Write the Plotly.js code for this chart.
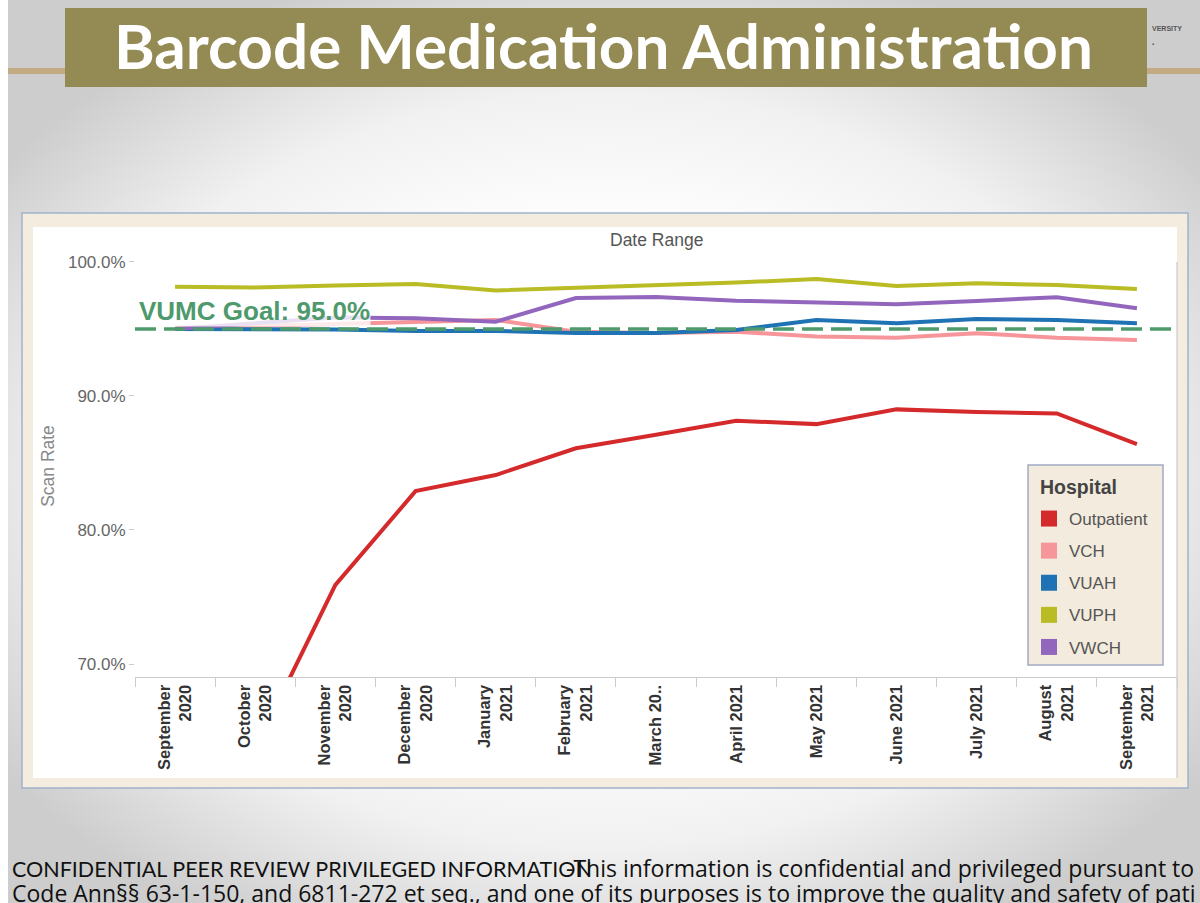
<!DOCTYPE html>
<html>
<head>
<meta charset="utf-8">
<script src="https://cdn.plot.ly/plotly-3.0.1.min.js"></script>
<style>
  html, body { margin:0; padding:0; width:1200px; height:903px; overflow:hidden; background:#ffffff; }
  #bg { position:absolute; left:8px; top:0; width:1192px; height:903px;
        background: radial-gradient(ellipse 62% 58% at 50% 52%, #ffffff 45%, #f1f1f1 72%, #cdcdcd 100%); }
  #chart { position:absolute; left:0; top:0; width:1200px; height:903px; }
</style>
</head>
<body>
<div id="bg"></div>
<div id="chart"></div>
<script>
// ---------------- data ----------------
const months = ['September 2020','October 2020','November 2020','December 2020','January 2021','February 2021',
                'March 2021','April 2021','May 2021','June 2021','July 2021','August 2021','September 2021'];
const tickLabels = ['September<br>2020','October<br>2020','November<br>2020','December<br>2020','January<br>2021',
                    'February<br>2021','March 20..','April 2021','May 2021','June 2021','July 2021','August<br>2021','September<br>2021'];
const hospitals = ['Outpatient','VCH','VUAH','VUPH','VWCH'];
const outpatient = [61.5, 63.7, 75.9, 82.9, 84.1, 86.1, 87.1, 88.15, 87.9, 89.0, 88.8, 88.7, 86.4];
const vch        = [95.07, 95.22, 95.37, 95.52, 95.67, 94.80, 94.70, 94.80, 94.43, 94.35, 94.68, 94.35, 94.18];
const vuah       = [95.0, 95.0, 94.96, 94.85, 94.85, 94.70, 94.70, 94.93, 95.67, 95.43, 95.75, 95.67, 95.43];
const vuph       = [98.16, 98.1, 98.25, 98.36, 97.87, 98.06, 98.28, 98.46, 98.73, 98.21, 98.41, 98.28, 97.99];
const vwch       = [95.0, 95.4, 95.85, 95.8, 95.54, 97.31, 97.39, 97.11, 96.94, 96.84, 97.09, 97.37, 96.54];
const goal = 95.0;
const goalLabel = 'VUMC Goal: 95.0%';
const legendTitle = 'Hospital';
const yTicks = [70, 80, 90, 100];
const yTickText = yTicks.map(v => v.toFixed(1) + '%');

// ---------------- styling ----------------
const colors = ['#d42a2c', '#f7969a', '#1f72b3', '#b9bc24', '#9366bd'];
const series = [outpatient, vch, vuah, vuph, vwch];

const W = 1200, H = 903;
const M = {l:135, r:23, t:255, b:226};
const PW = W - M.l - M.r, PH = H - M.t - M.b;
const px = x => (x - M.l) / PW;
const py = y => (H - M.b - y) / PH;

const ARIAL = 'Arial, "Liberation Sans", sans-serif';

const traces = [];
hospitals.forEach((h, i) => {
  traces.push({
    type:'scatter', mode:'lines', name:h, x:months, y:series[i],
    line:{color:colors[i], width:4}, showlegend:false, hoverinfo:'skip'
  });
});
hospitals.forEach((h, i) => {
  traces.push({
    type:'scatter', mode:'markers', name:h, x:[null], y:[null],
    marker:{symbol:'square', size:16, color:colors[i]},
    legendgroup:h, showlegend:true
  });
});

const shapes = [
  // chart frame
  {type:'rect', xref:'paper', yref:'paper', x0:px(22), x1:px(1188), y0:py(213), y1:py(788),
   fillcolor:'#f4ecdf', line:{color:'#9fb4cc', width:1.5}, layer:'below'},
  {type:'rect', xref:'paper', yref:'paper', x0:px(33), x1:px(1177), y0:py(227), y1:py(778),
   fillcolor:'#ffffff', line:{width:0}, layer:'below'},
  {type:'line', xref:'paper', yref:'paper', x0:px(1177), x1:px(1177), y0:py(262), y1:py(778),
   line:{color:'#c9c9c9', width:1.2}, layer:'below'},
  // legend box
  {type:'rect', xref:'paper', yref:'paper', x0:px(1028), x1:px(1163), y0:py(465), y1:py(665),
   fillcolor:'#f3ebdd', line:{color:'#a3abc3', width:1.5}, layer:'below'},
  // title bar ribbons
  {type:'rect', xref:'paper', yref:'paper', x0:px(8), x1:px(66), y0:py(68), y1:py(74),
   fillcolor:'#c2aa82', line:{width:0}, layer:'below'},
  {type:'rect', xref:'paper', yref:'paper', x0:px(1146), x1:px(1200), y0:py(68), y1:py(74),
   fillcolor:'#c2aa82', line:{width:0}, layer:'below'},
  // title bar
  {type:'rect', xref:'paper', yref:'paper', x0:px(65), x1:px(1147), y0:py(8), y1:py(87),
   fillcolor:'#948a54', line:{width:0}, layer:'below'},
  // goal line
  {type:'line', xref:'paper', yref:'y', x0:0, x1:0.995, y0:goal, y1:goal,
   line:{color:'#4e9a6c', width:3.5, dash:'21px,8px'}, layer:'above'}
];

const annotations = [
  {xref:'paper', yref:'paper', x:px(603), y:py(45), xanchor:'center', yanchor:'middle', showarrow:false,
   text:'Barcode Medication Administration',
   font:{family:'Lato, "Open Sans", sans-serif', size:62, weight:700, color:'#ffffff'}},
  {xref:'paper', yref:'paper', x:px(1150), y:py(29), xanchor:'left', yanchor:'middle', showarrow:false,
   text:'VERSITY', font:{family:ARIAL, size:7, weight:700, color:'#555555'}},
  {xref:'paper', yref:'paper', x:px(1150), y:py(44), xanchor:'left', yanchor:'middle', showarrow:false,
   text:'▪', font:{family:ARIAL, size:6, color:'#555555'}},
  {xref:'paper', yref:'paper', x:px(656), y:py(240), xanchor:'center', yanchor:'middle', showarrow:false,
   text:'Date Range', font:{family:ARIAL, size:17.5, color:'#555555'}},
  {xref:'paper', yref:'paper', x:px(138), y:py(311), xanchor:'left', yanchor:'middle', showarrow:false,
   text:'<b>' + goalLabel + '</b>', bgcolor:'rgba(255,255,255,0.8)', borderpad:0,
   font:{family:ARIAL, size:26, color:'#4e9a6c'}},
  {xref:'paper', yref:'paper', x:px(1038), y:py(487), xanchor:'left', yanchor:'middle', showarrow:false,
   text:'<b>' + legendTitle + '</b>', font:{family:ARIAL, size:19.5, color:'#444444'}},
  {xref:'paper', yref:'paper', x:px(10), y:py(882.5), xanchor:'left', yanchor:'middle', align:'left', showarrow:false,
   text:'<span style="font-family:Lato;font-size:21.5px">CONFIDENTIAL PEER REVIEW PRIVILEGED INFORMATION</span><br>' +
        '<span style="font-family:\'Open Sans\';font-size:23px">Code Ann§§ 63-1-150, and 6811-272 et seq., and one of its purposes is to improve the quality and safety of pati</span>',
   font:{family:'Lato, sans-serif', size:19.5, color:'#111111'}},
  {xref:'paper', yref:'paper', x:px(564), y:py(868), xanchor:'left', yanchor:'middle', showarrow:false,
   text:'-This information is confidential and privileged pursuant to',
   font:{family:'"Open Sans", sans-serif', size:23, color:'#111111'}}
];

const layout = {
  width:W, height:H,
  margin:M,
  paper_bgcolor:'rgba(0,0,0,0)', plot_bgcolor:'rgba(0,0,0,0)',
  showlegend:true,
  font:{family:ARIAL, color:'#555555'},
  xaxis:{
    type:'category', range:[-0.5, 12.5], tickvals:months, ticktext:tickLabels,
    tickangle:-90, tickfont:{family:ARIAL, size:16.5, weight:700, color:'#333333'},
    ticks:'outside', tickson:'boundaries', ticklen:9, tickcolor:'#cccccc', tickwidth:1,
    showline:true, linecolor:'#cccccc', linewidth:1.2, showgrid:false, zeroline:false,
    automargin:false, fixedrange:true
  },
  yaxis:{
    range:[69.03, 100.52], tickvals:yTicks, ticktext:yTickText,
    tickfont:{family:ARIAL, size:17, color:'#666666'},
    ticks:'outside', ticklen:5, tickcolor:'#cccccc',
    showline:false, showgrid:false, zeroline:false, automargin:false, fixedrange:true,
    title:{text:'Scan Rate', font:{family:ARIAL, size:17.5, color:'#888888'}, standoff:8}
  },
  legend:{
    x:px(1029), y:py(501), xanchor:'left', yanchor:'top',
    bgcolor:'rgba(0,0,0,0)', borderwidth:0,
    font:{family:ARIAL, size:17, color:'#555555'},
    tracegroupgap:7, itemclick:false, itemdoubleclick:false
  },
  shapes:shapes,
  annotations:annotations
};

Plotly.newPlot('chart', traces, layout, {staticPlot:true, displayModeBar:false});
</script>
</body>
</html>
